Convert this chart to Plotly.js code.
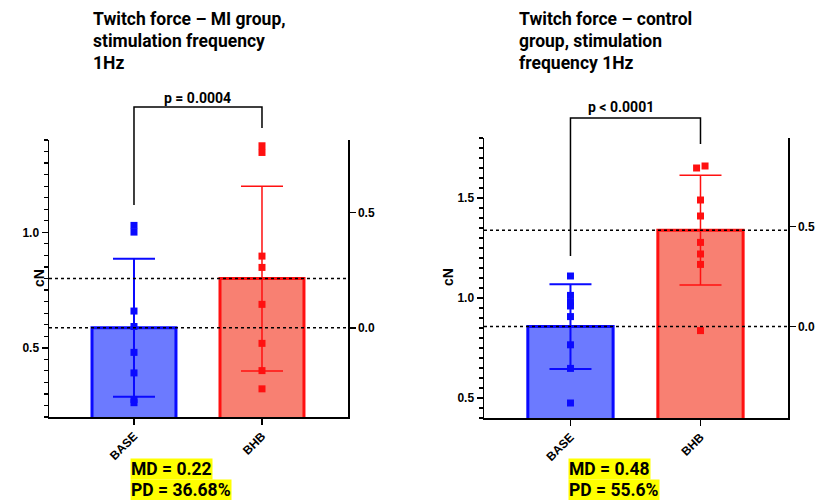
<!DOCTYPE html>
<html><head><meta charset="utf-8">
<script src="https://cdn.plot.ly/plotly-3.0.1.min.js"></script>
<style>html,body{margin:0;padding:0;background:#fff}#chart{width:820px;height:500px}</style>
</head><body><div id="chart"></div>
<script>
// ---- data ----
const categories = ['BASE', 'BHB'];
const miBase   = [1.030, 1.001, 0.659, 0.592, 0.480, 0.391, 0.276, 0.262];
const miBhb    = [1.375, 1.346, 0.897, 0.848, 0.688, 0.519, 0.401, 0.322];
const ctrlBase = [1.110, 1.013, 0.980, 0.960, 0.907, 0.766, 0.648, 0.475];
const ctrlBhb  = [1.660, 1.650, 1.490, 1.410, 1.278, 1.220, 1.168, 0.837];
const miTitleLines   = ['Twitch force – MI group,', 'stimulation frequency', '1Hz'];
const ctrlTitleLines = ['Twitch force – control', 'group, stimulation', 'frequency 1Hz'];
const miPText   = 'p = 0.0004';
const ctrlPText = 'p < 0.0001';
const miStatLines   = ['MD = 0.22', 'PD = 36.68%'];
const ctrlStatLines = ['MD = 0.48', 'PD = 55.6%'];
const yTitle = 'cN';

// small horizontal scatter offsets (style only)
const ctrlBhbJitter = [0.035, -0.03, 0, 0, 0, 0, 0, 0];

// ---- helpers ----
const W = 820, H = 500;
const px = x => x / W;
const py = y => 1 - y / H;
const mean = a => a.reduce((s, v) => s + v, 0) / a.length;
const sd = a => { const m = mean(a); return Math.sqrt(a.reduce((s, v) => s + (v - m) * (v - m), 0) / (a.length - 1)); };

const BLUE = '#0a0aff', BLUEFILL = 'rgb(108,122,255)';
const RED = '#ff1010', REDFILL = 'rgb(248,128,114)';
const barW = 0.656;
const tickFont = {family: 'Liberation Sans, Arial, sans-serif', size: 12, color: '#000', weight: 'bold'};
const xTickFont = {family: 'Liberation Sans, Arial, sans-serif', size: 12, color: '#000', weight: 'bold'};
const txtFont = (s) => ({family: 'Roboto, Liberation Sans, sans-serif', size: s, color: '#000', weight: 'bold'});

function panel(base, bhb, xs, ys, ysec, bhbJit) {
  return [
    {type: 'bar', x: [0], y: [mean(base)], width: [barW], xaxis: xs, yaxis: ys, name: categories[0],
     marker: {color: BLUEFILL, line: {color: BLUE, width: 3}},
     error_y: {type: 'data', array: [sd(base)], visible: true, color: BLUE, thickness: 2, width: 21}},
    {type: 'bar', x: [1], y: [mean(bhb)], width: [barW], xaxis: xs, yaxis: ys, name: categories[1],
     marker: {color: REDFILL, line: {color: RED, width: 3}},
     error_y: {type: 'data', array: [sd(bhb)], visible: true, color: RED, thickness: 1.5, width: 21}},
    {type: 'scatter', mode: 'markers', x: base.map(() => 0), y: base, xaxis: xs, yaxis: ys,
     marker: {symbol: 'square', size: 7, color: BLUE}},
    {type: 'scatter', mode: 'markers', x: bhb.map((v, i) => 1 + (bhbJit ? bhbJit[i] : 0)), y: bhb, xaxis: xs, yaxis: ys,
     marker: {symbol: 'square', size: 7, color: RED}},
    // empty trace so the secondary (difference) axis is drawn
    {type: 'scatter', mode: 'markers', x: [null], y: [null], xaxis: xs, yaxis: ysec, hoverinfo: 'skip',
     marker: {opacity: 0}}
  ];
}

const data = [
  ...panel(miBase, miBhb, 'x', 'y', 'y3', null),
  ...panel(ctrlBase, ctrlBhb, 'x2', 'y2', 'y4', ctrlBhbJitter)
];

const yr1 = [0.2, 1.4], yr2 = [0.4, 1.8];
const m1 = mean(miBase), m2 = mean(ctrlBase);

function xAxis(dom, anchor, range) {
  return {domain: dom, anchor: anchor, range: range, tickvals: [0, 1], ticktext: categories,
    tickangle: -45, ticks: 'outside', ticklen: 6, tickwidth: 1.5, tickcolor: '#000',
    showline: true, linewidth: 1.5, linecolor: '#000', showgrid: false, zeroline: false,
    tickfont: xTickFont, fixedrange: true};
}
function yAxis(dom, anchor, range) {
  return {domain: dom, anchor: anchor, range: range, dtick: 0.5, tick0: 0, tickformat: '.1f',
    ticks: 'outside', ticklen: 6, tickwidth: 1.5, tickcolor: '#000',
    minor: {dtick: 0.05, tick0: 0, ticks: 'outside', ticklen: 4, tickwidth: 1.2, tickcolor: '#000', showgrid: false},
    showline: true, linewidth: 1.5, linecolor: '#000', showgrid: false, zeroline: false, tickfont: tickFont};
}
function y2Axis(over, anchor, range) {
  return {overlaying: over, anchor: anchor, side: 'right', range: range, dtick: 0.5, tick0: 0, tickformat: '.1f',
    ticks: 'outside', ticklen: 6, tickwidth: 1.5, tickcolor: '#000',
    showline: true, linewidth: 1.5, linecolor: '#000', showgrid: false, zeroline: false, tickfont: tickFont};
}

const dot = {color: '#000', width: 1.5, dash: 'dot'};
const blk = {color: '#000', width: 1.5};

const shapes = [
  {type: 'line', xref: 'x domain', yref: 'y', x0: 0, x1: 1, y0: mean(miBase), y1: mean(miBase), line: dot, layer: 'above'},
  {type: 'line', xref: 'x domain', yref: 'y', x0: 0, x1: 1, y0: mean(miBhb), y1: mean(miBhb), line: dot, layer: 'above'},
  {type: 'line', xref: 'x2 domain', yref: 'y2', x0: 0, x1: 1, y0: mean(ctrlBase), y1: mean(ctrlBase), line: dot, layer: 'above'},
  {type: 'line', xref: 'x2 domain', yref: 'y2', x0: 0, x1: 1, y0: mean(ctrlBhb), y1: mean(ctrlBhb), line: dot, layer: 'above'},
  {type: 'path', xref: 'x', yref: 'paper', path: `M 0,${py(205)} L 0,${py(107)} L 1,${py(107)} L 1,${py(128)}`, line: blk},
  {type: 'path', xref: 'x2', yref: 'paper', path: `M 0,${py(256)} L 0,${py(118)} L 1,${py(118)} L 1,${py(144)}`, line: blk}
];

const annotations = [];
function titleLines(lines, x0) {
  lines.forEach((t, i) => annotations.push({xref: 'paper', yref: 'paper', x: px(x0), y: py(19 + 22 * i),
    xanchor: 'left', yanchor: 'middle', showarrow: false, text: t, font: txtFont(17.5)}));
}
titleLines(miTitleLines, 91);
titleLines(ctrlTitleLines, 517);
annotations.push({xref: 'paper', yref: 'paper', x: px(197), y: py(98), xanchor: 'center', yanchor: 'middle',
  showarrow: false, text: miPText, font: txtFont(14)});
annotations.push({xref: 'paper', yref: 'paper', x: px(621), y: py(107), xanchor: 'center', yanchor: 'middle',
  showarrow: false, text: ctrlPText, font: txtFont(14)});
function statLines(lines, x0) {
  lines.forEach((t, i) => annotations.push({xref: 'paper', yref: 'paper', x: px(x0), y: py(469 + 20.5 * i),
    xanchor: 'left', yanchor: 'middle', showarrow: false, text: t, font: txtFont(17.5),
    bgcolor: '#ffff00', borderpad: 0}));
}
statLines(miStatLines, 130);
statLines(ctrlStatLines, 568);
annotations.push({xref: 'paper', yref: 'paper', x: px(39), y: py(278), textangle: -90, showarrow: false,
  text: yTitle, font: {...tickFont, size: 14}, xanchor: 'center', yanchor: 'middle'});
annotations.push({xref: 'paper', yref: 'paper', x: px(448), y: py(277), textangle: -90, showarrow: false,
  text: yTitle, font: {...tickFont, size: 14}, xanchor: 'center', yanchor: 'middle'});

const layout = {
  width: W, height: H, margin: {l: 0, r: 0, t: 0, b: 0}, paper_bgcolor: '#fff', plot_bgcolor: 'rgba(0,0,0,0)',
  showlegend: false, barmode: 'overlay',
  xaxis: xAxis([px(49), px(348)], 'y', [-0.664, 1.672]),
  yaxis: yAxis([py(417), py(140)], 'x', yr1),
  yaxis3: y2Axis('y', 'x', [yr1[0] - m1, yr1[1] - m1]),
  xaxis2: xAxis([px(484), px(788)], 'y2', [-0.665, 1.673]),
  yaxis2: yAxis([py(418), py(138)], 'x2', yr2),
  yaxis4: y2Axis('y2', 'x2', [yr2[0] - m2, yr2[1] - m2]),
  shapes: shapes, annotations: annotations
};

Plotly.newPlot('chart', data, layout, {staticPlot: true, displayModeBar: false});
</script></body></html>
